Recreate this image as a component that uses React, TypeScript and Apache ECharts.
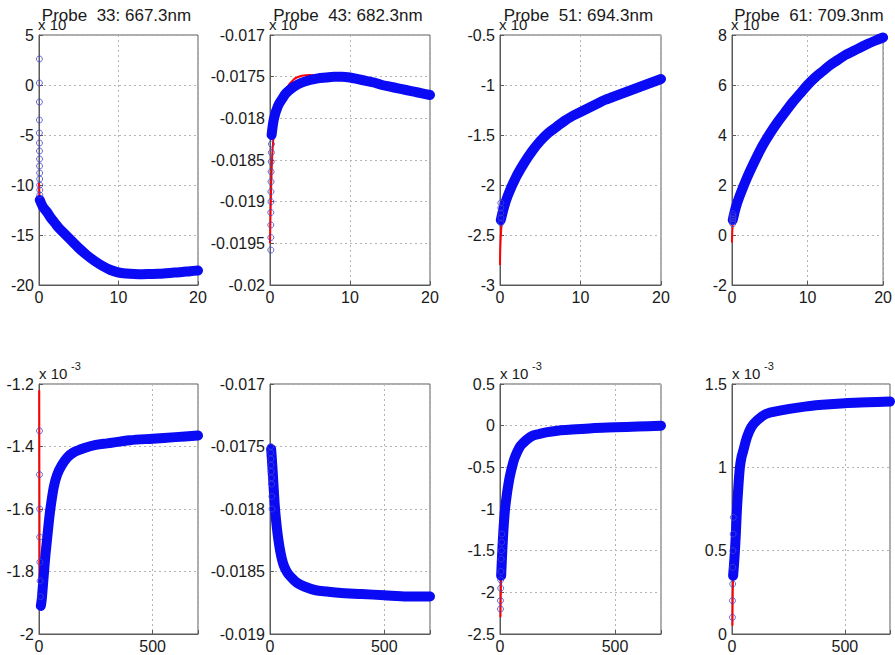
import React, { useEffect, useRef } from "react";
import * as echarts from "echarts";

// ---------- titles ----------
const titles = ["Probe  33: 667.3nm", "Probe  43: 682.3nm", "Probe  51: 694.3nm", "Probe  61: 709.3nm"];

// ---------- tick values ----------
const xTicksTop = [0, 10, 20];
const xTicksBottom = [0, 500];
const yRange1 = [-20, 5, 5];
const yRange2 = [-0.02, -0.017, 0.0005];
const yRange3 = [-3, -0.5, 0.5];
const yRange4 = [-2, 8, 2];
const yRange5 = [-2, -1.2, 0.2];
const yRange6 = [-0.019, -0.017, 0.0005];
const yRange7 = [-2.5, 0.5, 0.5];
const yRange8 = [0, 1.5, 0.5];
const xRangeTop = [0, 20, 10];
const xRangeBottom = [0, 700, 500];
const exponentTop = ["x 10", "x 10", "x 10", "x 10"];
const exponentBottom = ["-3", "", "-3", "-3"];

// ---------- Probe 33, short time (x 0..20) ----------
const circles1 = [[0.05, 2.6], [0.05, 0.2], [0.05, -1.7], [0.05, -3.5], [0.05, -4.8], [0.06, -5.8], [0.06, -6.6], [0.07, -7.4], [0.07, -8.1], [0.08, -8.8], [0.08, -9.4], [0.09, -10], [0.1, -10.5], [0.1, -11]];
const band1 = [[0.1, -11.5], [0.5, -12.2], [1, -12.7], [1.5, -13.3], [2, -13.8], [2.5, -14.3], [3, -14.7], [3.5, -15.1], [4, -15.5], [5, -16.3], [6, -17], [7, -17.6], [8, -18.1], [9, -18.5], [10, -18.75], [11, -18.85], [12, -18.9], [13, -18.92], [14, -18.9], [15, -18.88], [16, -18.82], [17, -18.76], [18, -18.7], [19, -18.62], [20, -18.55]];
const fit1 = [[0, -9.8], [0.05, -10.8], [0.1, -11.3], [0.5, -12.1], [1, -12.7], [2, -13.8], [3, -14.7], [4, -15.5], [5, -16.3], [6, -17], [7, -17.6], [8, -18.1], [9, -18.5], [10, -18.75], [12, -18.9], [14, -18.9], [16, -18.82], [18, -18.7], [20, -18.55]];

// ---------- Probe 43, short time ----------
const circles2 = [[0.1, -0.01958], [0.1, -0.01943], [0.1, -0.01928], [0.1, -0.01913], [0.12, -0.019], [0.12, -0.01888], [0.13, -0.01876], [0.14, -0.01864], [0.15, -0.01852], [0.17, -0.01841], [0.18, -0.01831]];
const band2 = [[0.2, -0.0182], [0.5, -0.018], [1, -0.01785], [1.5, -0.01777], [2, -0.0177], [3, -0.01762], [4, -0.01757], [5, -0.01754], [6, -0.01752], [7, -0.01751], [8, -0.0175], [9, -0.0175], [10, -0.01751], [11, -0.01753], [12, -0.01755], [13, -0.01757], [14, -0.0176], [15, -0.01762], [16, -0.01764], [17, -0.01766], [18, -0.01768], [19, -0.0177], [20, -0.01772]];
const fit2 = [[0, -0.0195], [0.1, -0.019], [0.3, -0.0184], [0.6, -0.0181], [1, -0.01792], [2, -0.01765], [3, -0.01753], [4, -0.01749], [5, -0.01748], [6, -0.01749], [7, -0.0175], [8, -0.0175], [10, -0.01751], [12, -0.01755], [14, -0.0176], [16, -0.01764], [18, -0.01768], [20, -0.01772]];

// ---------- Probe 51, short time ----------
const circles3 = [[0.1, -2.18], [0.1, -2.23], [0.1, -2.28], [0.12, -2.33], [0.12, -2.38]];
const band3 = [[0.1, -2.35], [0.5, -2.22], [1, -2.1], [2, -1.92], [3, -1.78], [4, -1.66], [5, -1.56], [6, -1.48], [7, -1.42], [8, -1.36], [9, -1.31], [10, -1.27], [11, -1.23], [12, -1.19], [13, -1.15], [14, -1.12], [15, -1.09], [16, -1.06], [17, -1.03], [18, -1.0], [19, -0.97], [20, -0.94]];
const fit3 = [[0, -2.8], [0.05, -2.6], [0.2, -2.4], [0.5, -2.25], [1, -2.12], [2, -1.91], [3, -1.75], [4, -1.63], [5, -1.54], [6, -1.47], [7, -1.41], [8, -1.36], [10, -1.28], [12, -1.2], [14, -1.13], [16, -1.07], [18, -1.01], [20, -0.96]];

// ---------- Probe 61, short time ----------
const circles4 = [[0.1, 0.45], [0.1, 0.55], [0.1, 0.65], [0.12, 0.75], [0.12, 0.85]];
const band4 = [[0.1, 0.6], [0.5, 1.1], [1, 1.55], [2, 2.3], [3, 2.95], [4, 3.55], [5, 4.05], [6, 4.5], [7, 4.9], [8, 5.3], [9, 5.65], [10, 6.0], [11, 6.3], [12, 6.55], [13, 6.8], [14, 7.0], [15, 7.2], [16, 7.35], [17, 7.5], [18, 7.65], [19, 7.78], [20, 7.9]];
const fit4 = [[0, -0.3], [0.05, 0.2], [0.2, 0.8], [0.5, 1.1], [1, 1.55], [2, 2.3], [4, 3.55], [6, 4.5], [8, 5.3], [10, 6.0], [12, 6.55], [14, 7.0], [16, 7.35], [18, 7.65], [20, 7.9]];

// ---------- Probe 33, long time (x 0..700) ----------
const circles5 = [[2, -1.35], [2, -1.49], [3, -1.6], [3, -1.69], [4, -1.77], [5, -1.83], [6, -1.88]];
const band5 = [[8, -1.91], [12, -1.89], [20, -1.82], [28, -1.75], [35, -1.7], [42, -1.65], [50, -1.6], [65, -1.53], [80, -1.49], [100, -1.46], [125, -1.435], [150, -1.42], [200, -1.405], [250, -1.395], [300, -1.39], [400, -1.38], [500, -1.375], [600, -1.37], [700, -1.365]];
const fit5 = [[1, -1.22], [2, -1.6], [3, -1.85], [6, -1.9], [12, -1.88], [20, -1.81], [35, -1.69], [50, -1.6], [65, -1.53], [80, -1.49], [100, -1.46], [150, -1.42], [200, -1.405], [300, -1.39], [500, -1.375], [700, -1.365]];

// ---------- Probe 43, long time ----------
const circles6 = [[3, -0.0175], [3, -0.01755], [4, -0.0176], [4, -0.01765], [5, -0.0177], [6, -0.01775], [7, -0.0178], [8, -0.0179], [9, -0.018]];
const band6 = [[5, -0.01752], [10, -0.01765], [15, -0.0178], [22, -0.018], [30, -0.01815], [37, -0.01825], [44, -0.01833], [52, -0.0184], [60, -0.01845], [70, -0.01849], [80, -0.01852], [100, -0.01856], [118, -0.01859], [150, -0.01862], [200, -0.01865], [250, -0.01866], [300, -0.01867], [400, -0.01868], [500, -0.01869], [600, -0.0187], [700, -0.0187]];
const fit6 = [[2, -0.0175], [10, -0.01766], [22, -0.01802], [30, -0.01817], [44, -0.01836], [60, -0.01848], [80, -0.01855], [100, -0.01859], [118, -0.01861], [150, -0.01864], [200, -0.01866], [300, -0.01868], [500, -0.01869], [700, -0.0187]];

// ---------- Probe 51, long time ----------
const circles7 = [[2, -2.2], [2, -2.1], [3, -1.95], [3, -1.85], [4, -1.75], [5, -1.6], [6, -1.5], [7, -1.4], [8, -1.3]];
const band7 = [[5, -1.8], [10, -1.5], [15, -1.25], [22, -1.0], [30, -0.82], [35, -0.73], [42, -0.62], [52, -0.5], [62, -0.4], [74, -0.32], [87, -0.25], [100, -0.21], [120, -0.16], [143, -0.12], [170, -0.1], [200, -0.08], [250, -0.06], [300, -0.05], [400, -0.03], [500, -0.02], [600, -0.01], [700, 0.0]];
const fit7 = [[2, -2.3], [5, -1.82], [10, -1.5], [22, -1.0], [35, -0.74], [52, -0.51], [74, -0.33], [100, -0.22], [143, -0.13], [200, -0.08], [300, -0.05], [500, -0.02], [700, 0.0]];

// ---------- Probe 61, long time ----------
const circles8 = [[2, 0.1], [2, 0.2], [3, 0.3], [3, 0.4], [4, 0.5], [5, 0.6], [6, 0.7]];
const band8 = [[5, 0.35], [9, 0.42], [13, 0.5], [17, 0.6], [22, 0.75], [28, 0.88], [35, 1.0], [42, 1.06], [50, 1.1], [66, 1.18], [85, 1.24], [110, 1.28], [150, 1.32], [211, 1.34], [300, 1.36], [400, 1.375], [500, 1.385], [600, 1.39], [700, 1.395]];
const fit8 = [[2, 0.05], [5, 0.34], [13, 0.5], [22, 0.76], [35, 1.0], [50, 1.1], [66, 1.18], [110, 1.28], [150, 1.32], [211, 1.34], [300, 1.36], [500, 1.385], [700, 1.395]];

const panels = [
  { circles: circles1, band: band1, fit: fit1, y: yRange1, x: xRangeTop, xt: xTicksTop },
  { circles: circles2, band: band2, fit: fit2, y: yRange2, x: xRangeTop, xt: xTicksTop },
  { circles: circles3, band: band3, fit: fit3, y: yRange3, x: xRangeTop, xt: xTicksTop },
  { circles: circles4, band: band4, fit: fit4, y: yRange4, x: xRangeTop, xt: xTicksTop },
  { circles: circles5, band: band5, fit: fit5, y: yRange5, x: xRangeBottom, xt: xTicksBottom },
  { circles: circles6, band: band6, fit: fit6, y: yRange6, x: xRangeBottom, xt: xTicksBottom },
  { circles: circles7, band: band7, fit: fit7, y: yRange7, x: xRangeBottom, xt: xTicksBottom },
  { circles: circles8, band: band8, fit: fit8, y: yRange8, x: xRangeBottom, xt: xTicksBottom },
];

// ---------- layout ----------
const LEFTS = [39, 270, 500, 732];
const WIDTHS = [159, 160, 161, 158];
const TOPS = [35, 384];
const HEIGHT = 250;
const FONT = '"Liberation Sans", Arial, Helvetica, sans-serif';
const AXIS_COLOR = "#5a5a5a";
const TEXT_COLOR = "#1a1a1a";

const fmt = (v: number) => String(+Number(v).toFixed(6));

function buildOption() {
  const grid: any[] = [];
  const xAxis: any[] = [];
  const yAxis: any[] = [];
  const series: any[] = [];
  const graphic: any[] = [];

  panels.forEach((p, i) => {
    const col = i % 4;
    const row = Math.floor(i / 4);
    const left = LEFTS[col];
    const top = TOPS[row];
    grid.push({
      left,
      top,
      width: WIDTHS[col],
      height: HEIGHT,
      show: true,
      borderColor: AXIS_COLOR,
      borderWidth: 1,
      backgroundColor: "#ffffff",
      containLabel: false,
    });
    const gridLine = { show: true, lineStyle: { color: "#b4b4b4", type: [2, 3], width: 1 } };
    xAxis.push({
      type: "value",
      gridIndex: i,
      min: p.x[0],
      max: p.x[1],
      interval: p.x[2],
      axisLine: { show: true, onZero: false, lineStyle: { color: AXIS_COLOR } },
      axisTick: { show: true, inside: true, length: 4, lineStyle: { color: AXIS_COLOR } },
      axisLabel: {
        fontSize: 16,
        fontFamily: FONT,
        color: TEXT_COLOR,
        margin: 4,
        formatter: (v: number) => (p.xt.some((t) => Math.abs(t - v) < 1e-9) ? fmt(v) : ""),
      },
      splitLine: gridLine,
    });
    yAxis.push({
      type: "value",
      gridIndex: i,
      min: p.y[0],
      max: p.y[1],
      interval: p.y[2],
      axisLine: { show: true, onZero: false, lineStyle: { color: AXIS_COLOR } },
      axisTick: { show: true, inside: true, length: 4, lineStyle: { color: AXIS_COLOR } },
      axisLabel: { fontSize: 16, fontFamily: FONT, color: TEXT_COLOR, margin: 5, formatter: (v: number) => fmt(v) },
      splitLine: gridLine,
    });
    series.push({
      type: "line",
      xAxisIndex: i,
      yAxisIndex: i,
      data: p.fit,
      showSymbol: false,
      symbol: "none",
      smooth: 0.3,
      lineStyle: { color: "#ff0000", width: 2 },
      z: 2,
      silent: true,
    });
    series.push({
      type: "line",
      xAxisIndex: i,
      yAxisIndex: i,
      data: p.band,
      showSymbol: false,
      symbol: "none",
      smooth: 0.3,
      lineStyle: { color: "#0a0af5", width: 10, cap: "round", join: "round" },
      z: 3,
      silent: true,
    });
    series.push({
      type: "scatter",
      xAxisIndex: i,
      yAxisIndex: i,
      data: p.circles,
      symbol: "circle",
      symbolSize: 6,
      itemStyle: { color: "rgba(0,0,0,0)", borderColor: "#4444cc", borderWidth: 1 },
      z: 4,
      silent: true,
    });

    if (row === 0) {
      graphic.push({
        type: "text",
        x: left + WIDTHS[col] / 2 - 2,
        y: 15,
        z: 10,
        style: { text: titles[col], font: `17px ${FONT}`, fill: TEXT_COLOR, textAlign: "center", textVerticalAlign: "middle" },
      });
      graphic.push({
        type: "text",
        x: left - 1,
        y: 32,
        z: 9,
        style: { text: exponentTop[col], font: `15px ${FONT}`, fill: TEXT_COLOR, textAlign: "left", textVerticalAlign: "bottom" },
      });
    } else if (exponentBottom[col]) {
      graphic.push({
        type: "text",
        x: left,
        y: top - 3,
        style: { text: "x 10", font: `15px ${FONT}`, fill: TEXT_COLOR, textAlign: "left", textVerticalAlign: "bottom" },
      });
      graphic.push({
        type: "text",
        x: left + 32,
        y: top - 13,
        style: { text: exponentBottom[col], font: `11px ${FONT}`, fill: TEXT_COLOR, textAlign: "left", textVerticalAlign: "bottom" },
      });
    }
  });

  return {
    animation: false,
    backgroundColor: "#ffffff",
    textStyle: { fontFamily: FONT },
    grid,
    xAxis,
    yAxis,
    series,
    graphic,
  };
}

export default function App() {
  const ref = useRef<HTMLDivElement>(null);
  useEffect(() => {
    if (!ref.current) return;
    const chart = echarts.init(ref.current, undefined, { renderer: "svg" });
    chart.setOption(buildOption() as any);
    return () => chart.dispose();
  }, []);
  return (
    <div
      ref={ref}
      style={{ position: "fixed", left: 0, top: 0, width: 895, height: 655, background: "#fff" }}
    />
  );
}
